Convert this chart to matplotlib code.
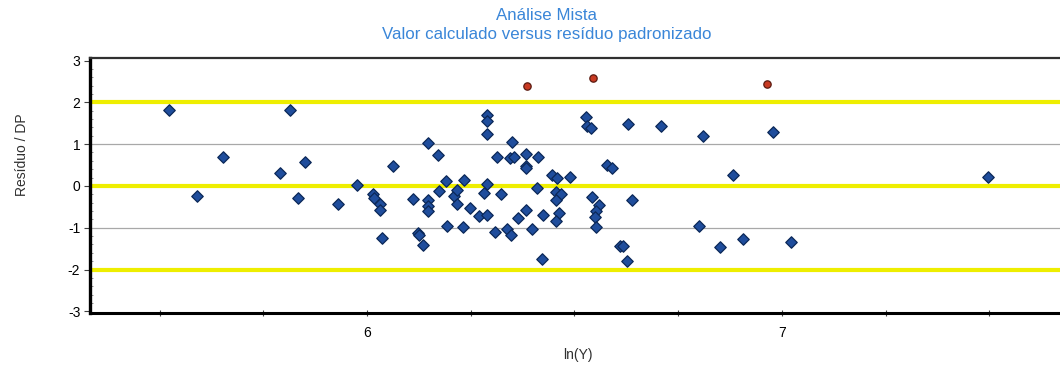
import numpy as np
import matplotlib.pyplot as plt
from matplotlib.ticker import MultipleLocator, FixedLocator

plt.rcParams["font.family"] = ["Liberation Sans", "DejaVu Sans"]
plt.rcParams["axes.unicode_minus"] = False

# ----- data --------------------------------------------------------------
ln_y = [
    5.524, 5.590, 5.652, 5.790, 5.814, 5.834, 5.851, 5.929, 5.977, 6.014,
    6.017, 6.031, 6.031, 6.035, 6.062, 6.112, 6.122, 6.126, 6.136, 6.146,
    6.147, 6.148, 6.148, 6.170, 6.174, 6.190, 6.193, 6.210, 6.218, 6.218,
    6.232, 6.234, 6.248, 6.270, 6.288, 6.282, 6.290, 6.290, 6.290, 6.290,
    6.308, 6.313, 6.324, 6.338, 6.347, 6.345, 6.354, 6.349, 6.363, 6.383,
    6.383, 6.383, 6.383, 6.397, 6.409, 6.413, 6.421, 6.425, 6.445, 6.459,
    6.455, 6.467, 6.456, 6.463, 6.455, 6.490, 6.527, 6.529, 6.541, 6.543,
    6.559, 6.551, 6.549, 6.552, 6.578, 6.590, 6.610, 6.616, 6.626, 6.629,
    6.639, 6.709, 6.801, 6.810, 6.851, 6.883, 6.905, 6.979, 7.021, 7.497,
]
residuo = [
    1.82, -0.24, 0.70, 0.32, 1.82, -0.28, 0.58, -0.43, 0.02, -0.20,
    -0.28, -0.43, -0.57, -1.24, 0.48, -0.31, -1.13, -1.17, -1.41, 1.02,
    -0.34, -0.49, -0.61, 0.74, -0.12, 0.12, -0.96, -0.24, -0.10, -0.43,
    -0.98, 0.15, -0.52, -0.73, 0.05, -0.16, -0.69, 1.70, 1.56, 1.25,
    -1.11, 0.70, -0.20, -1.04, -1.17, 0.66, 0.70, 1.06, -0.76, 0.76,
    0.48, 0.42, -0.57, -1.04, -0.05, 0.70, -1.75, -0.69, 0.26, 0.19,
    -0.14, -0.20, -0.34, -0.64, -0.84, 0.22, 1.64, 1.44, 1.39, -0.27,
    -0.45, -0.61, -0.74, -0.99, 0.49, 0.44, -1.44, -1.44, -1.79, 1.48,
    -0.34, 1.43, -0.96, 1.20, -1.45, 0.25, -1.28, 1.28, -1.35, 0.21,
]

# points beyond +/-2 DP (outliers, drawn in red)
ln_y_out = [6.385, 6.544, 6.965]
residuo_out = [2.39, 2.58, 2.43]

limites = [-2, 0, 2]
grade = [-1, 1]

TITLE_BLUE = "#3a86d8"

# ----- plot ----------------------------------------------------------------
fig = plt.figure(figsize=(10.6, 3.7), dpi=100)
ax = fig.add_axes([90 / 1060, 1 - 313 / 370, 970 / 1060, 255 / 370])

for y in limites:
    ax.axhline(y, color="#eeee00", lw=3.0, zorder=1)
for y in grade:
    ax.axhline(y, color="#a8a8a8", lw=0.9, zorder=1)

ax.scatter(ln_y, residuo, marker="D", s=34, c="#1f4d9c",
           edgecolors="#0b2858", linewidths=0.9, zorder=3)
ax.scatter(ln_y_out, residuo_out, marker="o", s=28, c="#c83a22",
           edgecolors="#5a1a10", linewidths=0.9, zorder=3)

ax.set_xlim(5.3325, 7.67)
ax.set_ylim(-3.04, 3.06)

ax.xaxis.set_major_locator(FixedLocator([6, 7]))
ax.xaxis.set_minor_locator(MultipleLocator(0.25))
ax.yaxis.set_major_locator(FixedLocator([-3, -2, -1, 0, 1, 2, 3]))
ax.yaxis.set_minor_locator(MultipleLocator(0.2))
ax.tick_params(axis="both", which="major", labelsize=10, length=4,
               width=0.8, color="#404040", direction="out", pad=3)
ax.tick_params(axis="x", which="minor", length=4, width=0.8,
               color="#404040", direction="inout")
ax.tick_params(axis="y", which="minor", length=2, width=0.6,
               color="#808080", direction="in")
ax.tick_params(axis="x", which="major", direction="inout", length=5, pad=7)

ax.spines["right"].set_visible(False)
ax.spines["left"].set_linewidth(2.4)
ax.spines["bottom"].set_linewidth(2.2)
ax.spines["top"].set_linewidth(1.6)
ax.spines["top"].set_color("#303030")

fig.text(547 / 1060, 1 - 16 / 370, "Análise Mista", color=TITLE_BLUE,
         fontsize=12.2, ha="center", va="center")
fig.text(547 / 1060, 1 - 34 / 370, "Valor calculado versus resíduo padronizado",
         color=TITLE_BLUE, fontsize=12.2, ha="center", va="center")
fig.text(22 / 1060, 1 - 155 / 370, "Resíduo / DP", rotation=90,
         fontsize=10, ha="center", va="center", color="#303030")
fig.text(578 / 1060, 1 - 355 / 370, "ln(Y)", fontsize=10,
         ha="center", va="center", color="#303030")

fig.savefig("out.png", dpi=100, facecolor="white")
